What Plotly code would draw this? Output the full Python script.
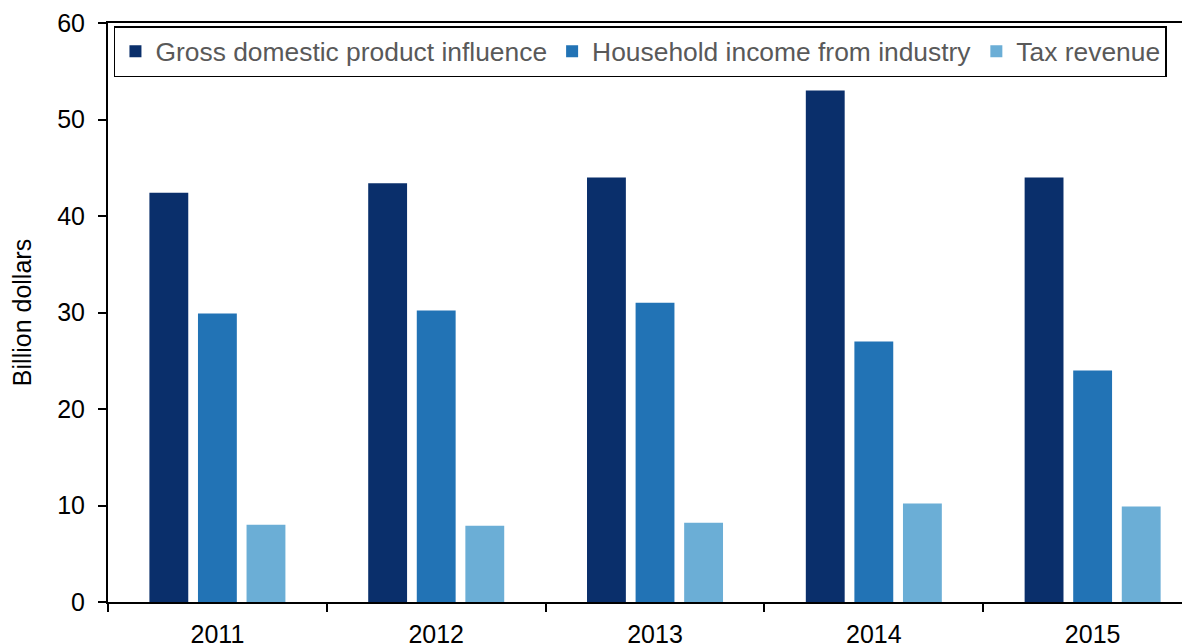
import plotly.graph_objects as go

years = ["2011", "2012", "2013", "2014", "2015"]
gdp_influence = [42.4, 43.4, 44.0, 53.0, 44.0]
household_income = [29.9, 30.2, 31.0, 27.0, 24.0]
tax_revenue = [8.0, 7.9, 8.2, 10.2, 9.9]

series_names = ["Gross domestic product influence", "Household income from industry", "Tax revenue"]
colors = ["#0a2f6b", "#2273b5", "#6baed6"]

FONT = "Liberation Sans, Arial, sans-serif"

fig = go.Figure()
for name, vals, col in zip(series_names, [gdp_influence, household_income, tax_revenue], colors):
    fig.add_trace(go.Bar(x=years, y=vals, name=name, marker=dict(color=col, line=dict(width=0))))

fig.update_layout(
    width=1182, height=636,
    margin=dict(l=100, r=0, t=15, b=42, autoexpand=False),
    plot_bgcolor="white", paper_bgcolor="white",
    barmode="group", bargap=0.334, bargroupgap=0.2,
    font=dict(family=FONT, size=25, color="#000000"),
    showlegend=True,
    legend=dict(
        orientation="h", x=0.0055, y=0.9948, xanchor="left", yanchor="top",
        font=dict(family=FONT, size=26.4, color="#595959"),
        bgcolor="white", bordercolor="#000000", borderwidth=1.5,
        traceorder="normal",
    ),
)

fig.update_xaxes(
    type="category", range=[-0.5, 4.445], automargin=False,
    showline=True, linecolor="#000000", linewidth=2, mirror=True,
    ticks="outside", tickson="boundaries", ticklen=8, tickwidth=1.5, tickcolor="#000000",
    ticklabelstandoff=9,
    showgrid=False, tickfont=dict(family=FONT, size=25, color="#000000"),
)
fig.update_yaxes(
    range=[0, 60], dtick=10, tick0=0, automargin=False,
    showline=True, linecolor="#000000", linewidth=2, mirror=False,
    ticks="outside", ticklen=8, tickwidth=1.5, tickcolor="#000000",
    ticklabelstandoff=8,
    showgrid=False, zeroline=False,
    tickfont=dict(family=FONT, size=25, color="#000000"),
    title=dict(text="Billion dollars", font=dict(family=FONT, size=25, color="#000000"), standoff=18),
)

fig.write_html("out.html")
